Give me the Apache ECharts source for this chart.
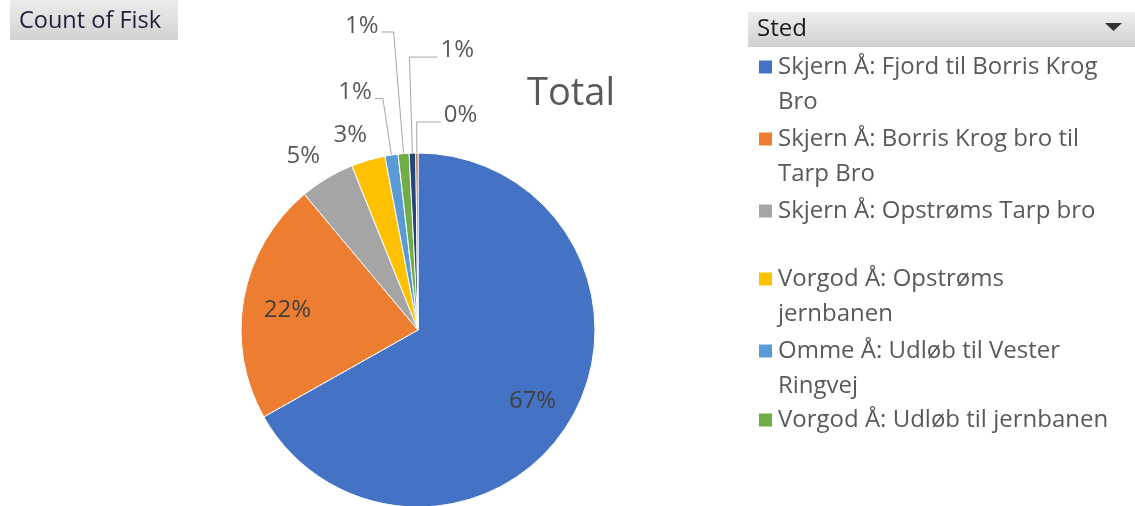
<!DOCTYPE html>
<html>
<head>
<meta charset="utf-8">
<script src="https://cdn.jsdelivr.net/npm/echarts@6/dist/echarts.min.js"></script>
<style>
html, body { margin: 0; padding: 0; background: #fff; }
#chart { width: 1135px; height: 506px; }
</style>
</head>
<body>
<div id="chart"></div>
<script>
// data (share of fish counted per stretch, %)
const steder = [
	'Skjern Å: Fjord til Borris Krog Bro',
	'Skjern Å: Borris Krog bro til Tarp Bro',
	'Skjern Å: Opstrøms Tarp bro',
	'Vorgod Å: Opstrøms jernbanen',
	'Omme Å: Udløb til Vester Ringvej',
	'Vorgod Å: Udløb til jernbanen',
	'Øvrig 1',
	'Øvrig 2'
];
const andele = [66.9, 22.1, 5.0, 3.1, 1.2, 1.0, 0.6, 0.2];
const farver = ['#4472C4', '#ED7D31', '#A5A5A5', '#FFC000', '#5B9BD5', '#70AD47', '#264478', '#9E480E'];
// legend text as it wraps in the original (leading \n keeps the icon on line one)
const legendeTekst = [
	'\nSkjern Å: Fjord til Borris Krog\nBro',
	'\nSkjern Å: Borris Krog bro til\nTarp Bro',
	'\nSkjern Å: Opstrøms Tarp bro\n',
	'\nVorgod Å: Opstrøms\njernbanen',
	'\nOmme Å: Udløb til Vester\nRingvej',
	'\nVorgod Å: Udløb til jernbanen\n'
];
const legendeY = [67, 139, 211, 279, 351, 420];
// leader line lengths for the outside labels
const linjeLaengde = [0, 0, 25, 25, 57, 122, 96, 31];
const linjeLaengde2 = [0, 0, 0, 0, 8, 12, 28, 24];

const FONT = '"Open Sans"';
const CX = 418, CY = 330;

let myChart = echarts.init(document.getElementById('chart'));

let pieData = andele.map(function (v, i) {
	let inside = i < 2;
	return {
		name: steder[i],
		value: v,
		itemStyle: { color: farver[i] },
		label: {
			position: inside ? 'inside' : 'outside',
			color: inside ? '#404040' : '#595959'
		},
		labelLine: {
			show: i >= 4,
			length: linjeLaengde[i],
			length2: linjeLaengde2[i]
		}
	};
});

let legends = legendeTekst.map(function (t, i) {
	return {
		show: true,
		orient: 'vertical',
		left: 757,
		top: legendeY[i] - 52.5,
		padding: 0,
		itemWidth: 15,
		itemHeight: 15,
		icon: 'rect',
		selectedMode: false,
		data: [steder[i]],
		formatter: function () { return t; },
		textStyle: {
			fontFamily: FONT,
			fontSize: 24,
			color: '#595959',
			lineHeight: 35
		}
	};
});

let option = {
	animation: false,
	backgroundColor: '#fff',
	title: {
		text: 'Total',
		left: 527,
		top: 75,
		padding: 0,
		textStyle: { fontFamily: FONT, fontSize: 38, fontWeight: 'normal', color: '#595959' }
	},
	legend: legends,
	graphic: [
		{
			type: 'rect',
			shape: { x: 10, y: 0, width: 168, height: 40 },
			style: {
				fill: new echarts.graphic.LinearGradient(0, 0, 0, 1, [
					{ offset: 0, color: '#ececec' },
					{ offset: 1, color: '#d2d2d2' }
				])
			}
		},
		{
			type: 'text',
			x: 19, y: 21,
			style: { text: 'Count of Fisk', font: '23.5px ' + FONT, fill: '#1f1f3a', verticalAlign: 'middle' }
		},
		{
			type: 'rect',
			shape: { x: 748, y: 12, width: 387, height: 35 },
			style: {
				fill: new echarts.graphic.LinearGradient(0, 0, 0, 1, [
					{ offset: 0, color: '#eeeeee' },
					{ offset: 1, color: '#d0d0d0' }
				])
			}
		},
		{
			type: 'text',
			x: 757, y: 29,
			style: { text: 'Sted', font: '24px ' + FONT, fill: '#1a1a1a', verticalAlign: 'middle' }
		},
		{
			type: 'polygon',
			shape: { points: [[1105, 23], [1122, 23], [1113.5, 31]] },
			style: { fill: '#333' }
		}
	],
	series: [
		{
			name: 'Count of Fisk',
			type: 'pie',
			center: [CX, CY],
			radius: 177,
			startAngle: 90,
			clockwise: true,
			avoidLabelOverlap: false,
			percentPrecision: 0,
			itemStyle: { borderColor: '#fff', borderWidth: 1 },
			label: {
				show: true,
				formatter: '{d}%',
				fontFamily: FONT,
				fontSize: 24,
				distanceToLabelLine: 3
			},
			labelLine: {
				smooth: false,
				lineStyle: { color: '#a6a6a6', width: 1 }
			},
			emphasis: { disabled: true },
			labelLayout: function (p) {
				let r = p.labelRect;
				if (p.dataIndex < 2) {
					// push the two big labels further out, as in the original
					let mx = r.x + r.width / 2, my = r.y + r.height / 2;
					return { dx: (mx - CX) * 0.45, dy: (my - CY) * 0.45 + 4 };
				}
				if (p.dataIndex < 4) {
					return { dx: 9, dy: -1 };
				}
				if (p.dataIndex >= 6 && p.labelLinePoints) {
					// last two slices: labels go to the right of the leader
					let pts = p.labelLinePoints;
					let endX = 2 * pts[1][0] - pts[2][0];
					return {
						dx: endX + 3 - r.x,
						dy: -7,
						labelLinePoints: [pts[0], pts[1], [endX, pts[2][1]]]
					};
				}
				return { dy: -6 };
			},
			data: pieData
		}
	]
};

myChart.setOption(option);
</script>
</body>
</html>
